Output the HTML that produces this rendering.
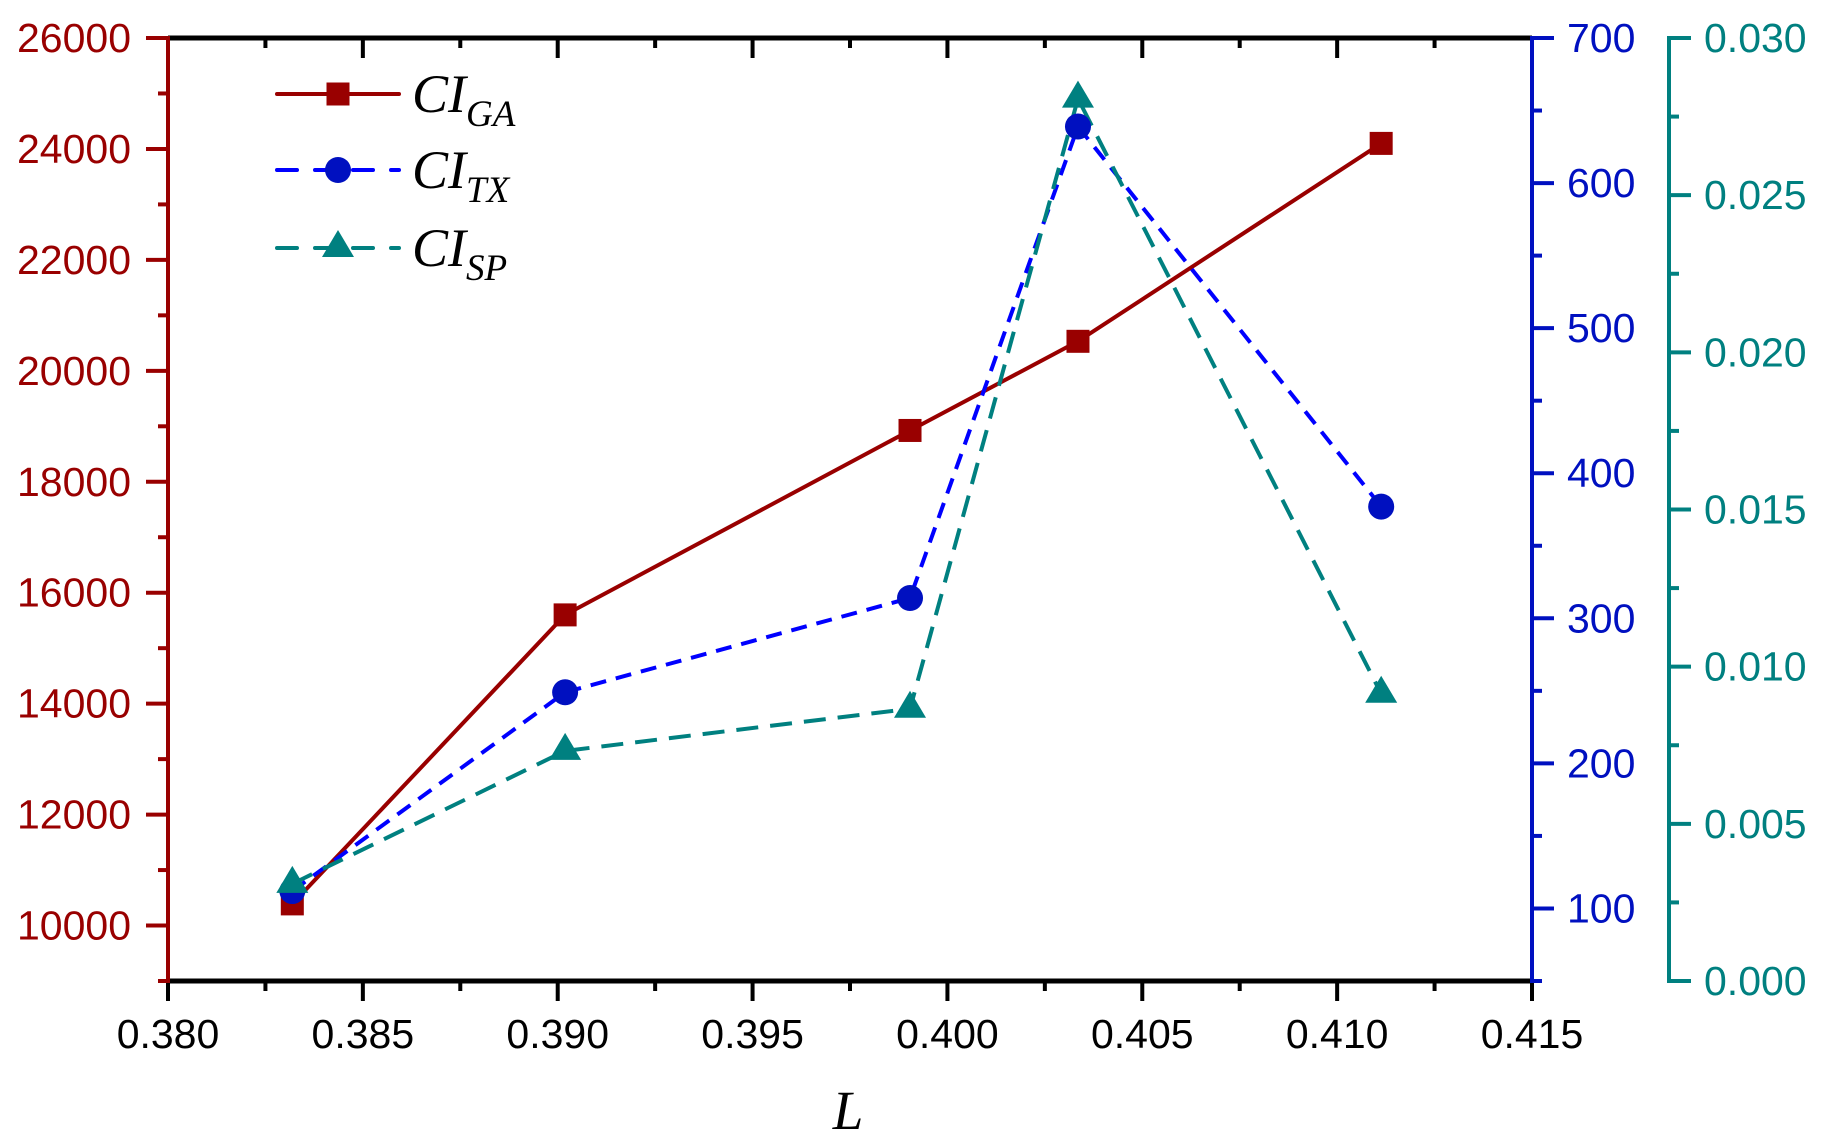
<!DOCTYPE html>
<html><head><meta charset="utf-8"><style>
html,body{margin:0;padding:0;background:#fff;}
svg{display:block;}
</style></head><body>
<svg id="chart" width="1823" height="1148" viewBox="0 0 1823 1148" xmlns="http://www.w3.org/2000/svg"></svg>
<script>
const xValues = [0.38319, 0.39019, 0.39904, 0.40335, 0.41113];
const gaValues = [10390, 15600, 18925, 20532, 24100];
const txValues = [112, 249, 314, 639, 377];
const spValues = [0.00309, 0.00732, 0.00866, 0.02807, 0.00914];
const xTicks = ["0.380","0.385","0.390","0.395","0.400","0.405","0.410","0.415"];
const leftTicks = ["10000","12000","14000","16000","18000","20000","22000","24000","26000"];
const blueTicks = ["100","200","300","400","500","600","700"];
const tealTicks = ["0.000","0.005","0.010","0.015","0.020","0.025","0.030"];

const X0=168, X1=1532, T=38, B=981, TX=1669;
const RED="#990000", BLUE="#0010c0", BLUEL="#0000ff", TEAL="#008080";
const SANS='font-family:"Liberation Sans",sans-serif';
const SERIF='font-family:"Liberation Serif",serif;font-style:italic';
const sx = v => X0 + (v-0.380)/0.035*(X1-X0);
const yL = v => T + (26000-v)/17000*(B-T);
const yB = v => T + (700-v)/650*(B-T);
const yT = v => T + (0.030-v)/0.030*(B-T);
const svg=document.getElementById('chart');
const NS="http://www.w3.org/2000/svg";
function mk(tag,attrs,parent){const e=document.createElementNS(NS,tag);for(const k in attrs)e.setAttribute(k,attrs[k]);(parent||svg).appendChild(e);return e;}
function line(x1,y1,x2,y2,c,w,name){const e=mk('line',{x1,y1,x2,y2,stroke:c,'stroke-width':w});


return e;}
function txt(x,y,s,c,anchor,size,name,style){const e=mk('text',{x,y,fill:c,'text-anchor':anchor,'font-size':size,style:style||SANS});e.textContent=s;


return e;}

line(X0,B,X1,B,"#000",5,'x-axis-line');
line(X0,T,X1,T,"#000",5,'top-axis-line');
for(let i=0;i<=14;i++){
  const v=0.380+i*0.0025, x=sx(v), major=i%2===0;
  line(x,B,x,B+(major?20:10),"#000",4,'x-tick');
  line(x,T,x,T+(major?20:10),"#000",4,'top-tick');
}
xTicks.forEach((s,i)=>{txt(sx(0.380+i*0.005),1048,s,"#000","middle",41,'x-tick-label');});
txt(848,1129,"L","#000","middle",55,'x-axis-title',SERIF);

line(X0,T-2,X0,B+2,RED,4,'left-axis-line');
for(let v=9000;v<=26000;v+=1000){const y=yL(v),major=v%2000===0;line(X0-(major?22:10),y,X0,y,RED,4,'left-tick');}
leftTicks.forEach(s=>{txt(131,yL(+s)+14,s,RED,"end",41,'left-tick-label');});

line(X1,T-2,X1,B+2,BLUE,4,'right-axis-line');
for(let v=50;v<=700;v+=50){const y=yB(v),major=v%100===0;line(X1,y,X1+(major?22:10),y,BLUE,4,'right-tick');}
blueTicks.forEach(s=>{txt(1567,yB(+s)+14,s,BLUE,"start",41,'right-tick-label');});

line(TX,T-2,TX,B+2,TEAL,4,'third-axis-line');
for(let i=0;i<=12;i++){const v=i*0.0025,y=yT(v),major=i%2===0;line(TX,y,TX+(major?22:10),y,TEAL,4,'third-tick');}
tealTicks.forEach(s=>{txt(1704,yT(+s)+14,s,TEAL,"start",41,'third-tick-label');});

function poly(ys,c,dash,name){const pts=xValues.map((x,i)=>sx(x)+','+ys[i]).join(' ');
const e=mk('polyline',{points:pts,fill:'none',stroke:c,'stroke-width':4,'stroke-dasharray':dash||'none'});

}
function sq(x,y,c,name){const e=mk('rect',{x:x-11.5,y:y-11.5,width:23,height:23,fill:c});

}
function circ(x,y,c,name){const e=mk('circle',{cx:x,cy:y,r:13,fill:c});

}
function tri(x,y,c,name){const e=mk('polygon',{points:`${x},${y-18} ${x-16},${y+9} ${x+16},${y+9}`,fill:c});

}

poly(gaValues.map(yL),RED,null,'ga-line');
poly(txValues.map(yB),BLUEL,"16 10",'tx-line');
poly(spValues.map(yT),TEAL,"22 12",'sp-line');
xValues.forEach((x,i)=>sq(sx(x),yL(gaValues[i]),RED,'ga-point'));
xValues.forEach((x,i)=>circ(sx(x),yB(txValues[i]),BLUE,'tx-point'));
xValues.forEach((x,i)=>tri(sx(x),yT(spValues[i]),TEAL,'sp-point'));

const leg=[["GA",RED,null,sq,94],["TX",BLUEL,"20 18",circ,170],["SP",TEAL,"20 18",tri,248]];
leg.forEach(([sub,c,dash,fn,y])=>{
  const l=mk('line',{x1:277,y1:y,x2:399,y2:y,stroke:c,'stroke-width':4,'stroke-dasharray':dash||'none','stroke-linecap':'round'});
  
  
  fn(338,y,sub==="TX"?BLUE:c,'legend-marker-'+sub.toLowerCase());
  const t=mk('text',{x:412,y:y+18,'font-size':54,fill:'#000',style:SERIF});
  
  
  t.appendChild(document.createTextNode('CI'));
  const ts=mk('tspan',{'font-size':37,dy:14},t);ts.textContent=sub;
});
</script>
</body></html>
